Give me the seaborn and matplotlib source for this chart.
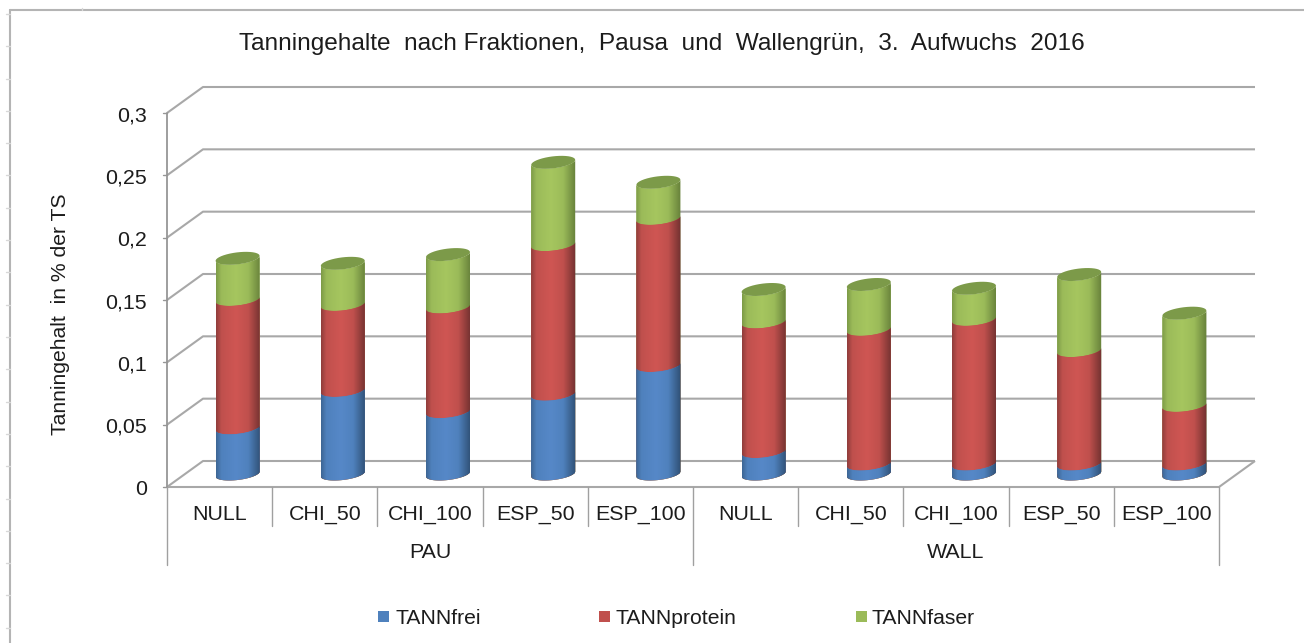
import numpy as np
import pandas as pd
import matplotlib
matplotlib.use("Agg")
import matplotlib.pyplot as plt
from matplotlib.colors import LinearSegmentedColormap
from matplotlib.lines import Line2D
from matplotlib.patches import Polygon, Rectangle
from matplotlib.path import Path
import seaborn as sns

# --- DATA ---
GROUPS = ["PAU", "WALL"]
TREATMENTS = ["NULL", "CHI_50", "CHI_100", "ESP_50", "ESP_100"]
TANN_FREI = [0.037, 0.067, 0.050, 0.064, 0.087, 0.018, 0.008, 0.008, 0.008, 0.008]
TANN_PROTEIN = [0.103, 0.069, 0.084, 0.120, 0.118, 0.104, 0.108, 0.116, 0.091, 0.047]
TANN_FASER = [0.033, 0.033, 0.042, 0.066, 0.029, 0.026, 0.036, 0.025, 0.061, 0.074]
Y_TICKS = [0, 0.05, 0.1, 0.15, 0.2, 0.25, 0.3]
Y_LABELS = ["0", "0,05", "0,1", "0,15", "0,2", "0,25", "0,3"]

TITLE = "Tanningehalte  nach Fraktionen,  Pausa  und  Wallengrün,  3.  Aufwuchs  2016"
YLABEL = "Tanningehalt  in % der TS"

# --- LAYOUT (pixels of the 1304x643 picture) ---
W, H = 1304, 643
PLANE_LEFT, PLANE_RIGHT = 185, 1237
Y_ZERO_PX, Y_TOP_PX = 474, 100
DEPTH_X, DEPTH_Y = 18, 13
FONT_PT = 15.4
TEXT_COL = "#1c1c1c"
GRID_COL = "#a8a8a8"

# base colour, left edge, right edge, centre shade
LAYERS = [
    ("TANNfaser", TANN_FASER, "#9bbb59", "#7d9a47", "#66803a", "#a6c65f"),
    ("TANNprotein", TANN_PROTEIN, "#c0504d", "#8f3d3b", "#713130", "#cf5653"),
    ("TANNfrei", TANN_FREI, "#4f81bd", "#3d6694", "#2f4f74", "#5688c8"),
]
LID_COL = "#7c9a49"
# square x, text x for the legend entries, in the order of LAYERS
LEGEND_POS = [(856, 872), (599, 616), (378, 395)]

sns.set_theme(style="white")
plt.rcParams["font.family"] = ["Liberation Sans", "DejaVu Sans"]

fig = plt.figure(figsize=(W / 100, H / 100), dpi=100, facecolor="white")

px_per_val = (Y_ZERO_PX - Y_TOP_PX) / 0.3
px_per_cat = (PLANE_RIGHT - PLANE_LEFT) / 10
y_min, y_max = -0.03, 0.31
ax_bottom = H - (Y_ZERO_PX - y_min * px_per_val)
ax_height = (y_max - y_min) * px_per_val
ax = fig.add_axes([PLANE_LEFT / W, ax_bottom / H, (PLANE_RIGHT - PLANE_LEFT) / W, ax_height / H])
ax.set_axis_off()

dx = DEPTH_X / px_per_cat
dy = DEPTH_Y / px_per_val


def px_text(x, y, s, **kw):
    kw.setdefault("color", TEXT_COL)
    kw.setdefault("fontsize", FONT_PT)
    kw.setdefault("ha", "center")
    kw.setdefault("va", "baseline")
    return fig.text(x / W, 1 - y / H, s, **kw)


def fig_line(xs, ys, **kw):
    fig.add_artist(Line2D([x / W for x in xs], [1 - y / H for y in ys], **kw))


def arc(cx, val, t0, t1, a=22.0, b=6.0, tilt=2.5):
    # elliptical end of a cylinder, returned in data coordinates
    t = np.linspace(t0, t1, 40)
    xs = cx + a * np.cos(t) / px_per_cat
    ys = val + (b * np.sin(t) + tilt * np.cos(t)) / px_per_val
    return np.column_stack([xs, ys])


# --- WALLS ---
grid_kw = dict(color=GRID_COL, lw=1.5, clip_on=False, zorder=1, solid_capstyle="butt")
for v in Y_TICKS:
    ax.plot([-0.5 - dx, -0.5 + dx, 9.5 + dx], [v - dy, v + dy, v + dy], **grid_kw)
ax.plot([-0.5 - dx, 9.5 - dx, 9.5 + dx], [-dy, -dy, dy], **grid_kw)
ax.plot([-0.5 - dx, -0.5 - dx], [-dy, 0.3 - dy], color="#969696", lw=1.3, clip_on=False, zorder=1)

# --- BARS ---
keys = [f"{g} {t}" for g in GROUPS for t in TREATMENTS]
frei = np.array(TANN_FREI)
protein = np.array(TANN_PROTEIN)
faser = np.array(TANN_FASER)
df = pd.DataFrame({
    "key": keys,
    "TANNfrei": frei,
    "TANNprotein": frei + protein,
    "TANNfaser": frei + protein + faser,
})

for i, (name, _, base, left, right, centre) in enumerate(LAYERS):
    n_before = len(ax.patches)
    sns.barplot(data=df, x="key", y=name, order=keys, color=base, saturation=1,
                width=0.42, ax=ax, zorder=3 + i, linewidth=0)
    # cylinder shading: horizontal gradient clipped to the bar body
    cmap = LinearSegmentedColormap.from_list(
        "cyl", [(0, left), (0.12, base), (0.45, centre), (0.72, base), (1, right)])
    grad = np.linspace(0, 1, 128).reshape(1, -1)
    for bar in ax.patches[n_before:]:
        cx = bar.get_x() + bar.get_width() / 2
        top = bar.get_height()
        body = np.vstack([arc(cx, 0, np.pi, 2 * np.pi), arc(cx, top, 2 * np.pi, np.pi)])
        body_path = Path(np.vstack([body, body[0]]), closed=True)
        bar.set_clip_path(body_path, ax.transData)
        im = ax.imshow(grad, cmap=cmap, aspect="auto", zorder=3 + i + 0.5,
                       extent=[bar.get_x(), bar.get_x() + bar.get_width(), -0.02, top + 0.01])
        im.set_clip_path(body_path, ax.transData)
        if i == 0:
            lid = arc(cx, top, 0, 2 * np.pi)
            ax.add_patch(Polygon(lid, closed=True, facecolor=LID_COL, edgecolor="none", zorder=8))

ax.set_xlim(-0.5, 9.5)
ax.set_ylim(y_min, y_max)
ax.set_axis_off()

# --- AXIS TEXT ---
for v, lab in zip(Y_TICKS, Y_LABELS):
    y_tick = Y_ZERO_PX + DEPTH_Y - v * px_per_val
    px_text(147, y_tick + 8, lab, ha="right")
    fig_line([163, 167], [y_tick, y_tick], color="#969696", lw=1)

left_px = PLANE_LEFT - DEPTH_X
for i, key in enumerate(keys):
    xc = left_px + (i + 0.5) * px_per_cat
    px_text(xc, 520, key.split(" ")[1])
for i in range(11):
    xb = left_px + i * px_per_cat
    fig_line([xb, xb], [487, 565 if i % 5 == 0 else 526], color="#a0a0a0", lw=1)
for j, g in enumerate(GROUPS):
    px_text(left_px + (j * 5 + 2.5) * px_per_cat, 558, g)

px_text(662, 50, TITLE, fontsize=17.55)
px_text(61, 314, YLABEL, rotation=90, fontsize=15.2, va="center", ha="center", rotation_mode="anchor")

# --- LEGEND ---
for (name, _, base, *_rest), (sq_x, txt_x) in zip(LAYERS, LEGEND_POS):
    fig.add_artist(Rectangle((sq_x / W, 1 - 622 / H), 11 / W, 11 / H, facecolor=base,
                             edgecolor="none", transform=fig.transFigure))
    px_text(txt_x, 623.5, name, ha="left", fontsize=15.2)

# --- SCREENSHOT FRAME ---
frame_kw = dict(color="#b4b4b4", lw=1.5)
fig_line([10, 10], [10, 643], **frame_kw)
fig_line([10, 1304], [10, 10], **frame_kw)
for k in range(20):
    fig_line([6, 10], [14 + k * 32.3] * 2, color="#d8d8d8", lw=1)
fig_line([82, 82], [8, 10], color="#d8d8d8", lw=1)

fig.savefig("out.png", dpi=100, facecolor="white")
